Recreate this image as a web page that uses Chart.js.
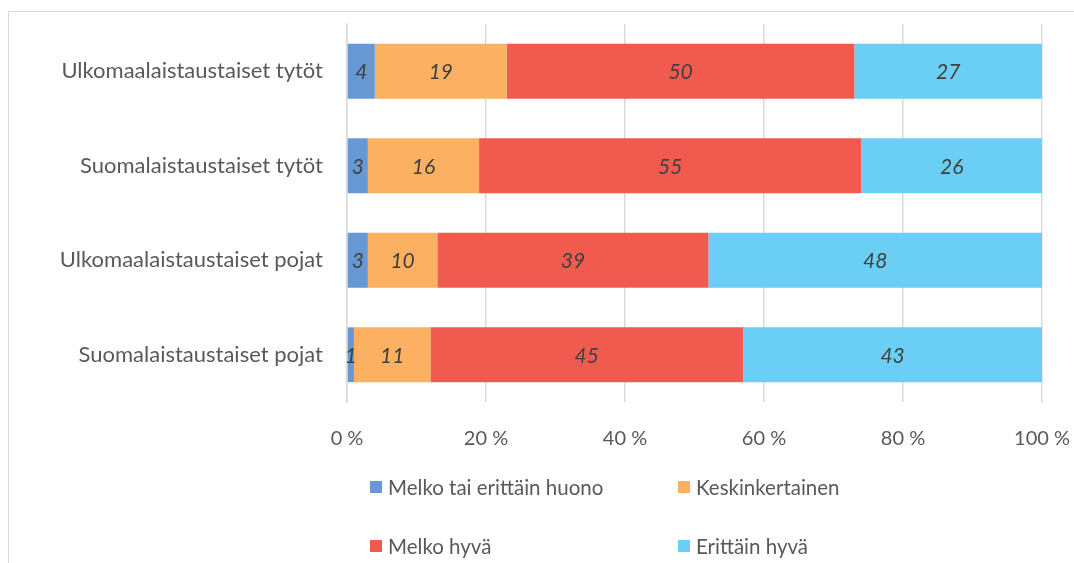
<!DOCTYPE html>
<html>
<head>
<meta charset="utf-8">
<script src="https://cdn.jsdelivr.net/npm/chart.js@4"></script>
<style>
  html,body{margin:0;padding:0;background:#fff;overflow:hidden}
  body{width:1074px;height:563px;position:relative;font-family:Lato,"Open Sans",sans-serif}
  .frame{position:absolute;left:8px;top:11px;width:1200px;height:700px;border-left:1.5px solid #d9d9d9;border-top:1.5px solid #d9d9d9}
  .wrap{position:absolute;left:0;top:0;width:1074px;height:460px}
  #legend{position:absolute;left:0;top:0;width:1074px;height:563px;pointer-events:none}
  #legend .item{position:absolute;display:flex;align-items:center;font-size:20.5px;color:#595959;white-space:nowrap}
  #legend .box{width:12px;height:12px;margin-right:6px}
</style>
</head>
<body>
<div class="frame"></div>
<div class="wrap"><canvas id="chart"></canvas></div>
<div id="legend"></div>
<script>
const categories = ['Ulkomaalaistaustaiset tytöt','Suomalaistaustaiset tytöt','Ulkomaalaistaustaiset pojat','Suomalaistaustaiset pojat'];
const seriesNames = ['Melko tai erittäin huono','Keskinkertainen','Melko hyvä','Erittäin hyvä'];
const seriesColors = ['#6699d3','#fbb062','#f15b4f','#6bcff5'];
const huono = [4, 3, 3, 1];
const keski = [19, 16, 10, 11];
const melkoHyva = [50, 55, 39, 45];
const erittainHyva = [27, 26, 48, 43];
const xTicks = [0, 20, 40, 60, 80, 100];

const values = [huono, keski, melkoHyva, erittainHyva];
const FONT = 'Lato, "Open Sans", sans-serif';

// value labels in the middle of each segment
const barLabels = {
  id: 'barLabels',
  afterDatasetsDraw(chart){
    const ctx = chart.ctx;
    ctx.save();
    ctx.font = 'italic 21px ' + FONT;
    ctx.fillStyle = '#404040';
    ctx.textAlign = 'center';
    ctx.textBaseline = 'middle';
    chart.data.datasets.forEach((ds, i)=>{
      chart.getDatasetMeta(i).data.forEach((bar, j)=>{
        const cx = (bar.x + bar.base) / 2;
        ctx.fillText(String(ds.data[j]), cx, bar.y + 1);
      });
    });
    ctx.restore();
  }
};

const chart = new Chart(document.getElementById('chart'), {
  type: 'bar',
  data: {
    labels: categories,
    datasets: seriesNames.map((name, i)=>({
      label: name,
      data: values[i],
      backgroundColor: seriesColors[i],
      borderWidth: 0,
      categoryPercentage: 1,
      barPercentage: 0.58
    }))
  },
  options: {
    indexAxis: 'y',
    responsive: true,
    maintainAspectRatio: false,
    animation: false,
    layout: { padding: { left: 0, right: 32, top: 24, bottom: 0 } },
    plugins: { legend: { display: false }, tooltip: { enabled: false } },
    scales: {
      x: {
        stacked: true,
        min: 0, max: 100,
        afterBuildTicks: s => { s.ticks = xTicks.map(v=>({value:v})); },
        // fixed height, and no extra room for the end labels
        afterFit: s => { s.height = 58; s.paddingLeft = 0; s.paddingRight = 0; },
        grid: { color: '#d9d9d9', lineWidth: 1.5, drawTicks: false },
        border: { display: false },
        ticks: {
          padding: 25,
          color: '#595959',
          font: { family: FONT, size: 20 },
          callback: v => v + ' %'
        }
      },
      y: {
        stacked: true,
        afterFit: s => { s.width = 347; s.paddingTop = 0; s.paddingBottom = 0; },
        grid: { display: false, drawTicks: false },
        border: { display: true, color: '#d9d9d9', width: 1.5 },
        ticks: {
          padding: 24,
          color: '#595959',
          font: { family: FONT, size: 22 }
        }
      }
    }
  },
  plugins: [barLabels]
});

// two-by-two legend below the plot
const legendPos = [[370, 488], [678, 488], [370, 547], [678, 547]];
const legendEl = document.getElementById('legend');
chart.data.datasets.forEach((ds, i)=>{
  const it = document.createElement('div');
  it.className = 'item';
  it.style.left = legendPos[i][0] + 'px';
  it.style.top = (legendPos[i][1] - 13) + 'px';
  it.innerHTML = `<span class="box" style="background:${ds.backgroundColor}"></span><span>${ds.label}</span>`;
  legendEl.appendChild(it);
});
</script>
</body>
</html>
